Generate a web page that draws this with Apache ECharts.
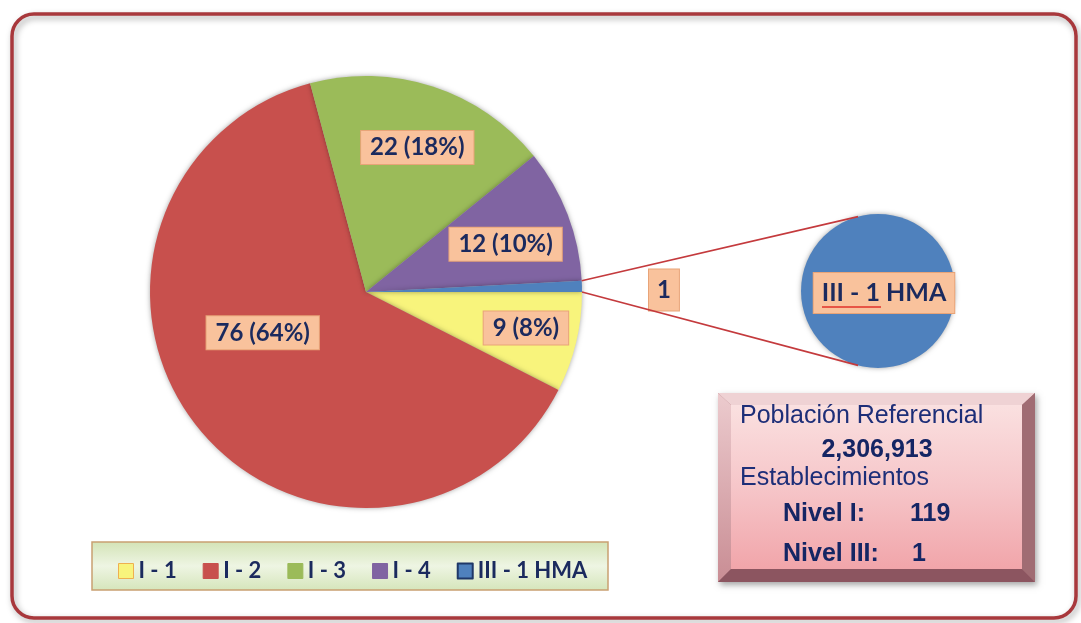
<!DOCTYPE html>
<html>
  <head>
  <meta charset="utf-8">
    <script type="text/javascript" src="https://cdn.jsdelivr.net/npm/echarts@6/dist/echarts.min.js"></script>
    <style>
      html, body { margin: 0; padding: 0; background: #fff; }
    </style>
  </head>
 <body>
     <div id="main" style="width:1081px;height:623px;"></div>
     <script type="text/javascript">
    // datos del grafico
    var categories = ['I - 1', 'I - 2', 'I - 3', 'I - 4', 'III - 1 HMA'];
    var counts = [9, 76, 22, 12, 1];
    var pctLabels = ['8%', '64%', '18%', '10%', ''];
    var colors = ['#f8f47c', '#c8504d', '#9bbb59', '#8064a2', '#4f81bd'];
    var legendBorders = ['#eeb050', '#c8504d', '#9bbb59', '#8064a2', '#1f3868'];
    var poblacion = '2,306,913';
    var nivelI = 119;
    var nivelIII = 1;

    // desplazamiento de cada etiqueta respecto de su posicion interna
    var labelShift = [[52, 10], [-17, -29], [17, -39], [36, -8], [187, 1]];

    var PIE_C = [366, 292], PIE_R = 216;
    var SUB_C = [878, 291], SUB_R = 77;
    var navy = '#1b2a5e';
    var textBlue = '#1d2e78';

    var myChart = echarts.init(document.getElementById('main'));

    var total = counts.reduce(function (a, b) { return a + b; }, 0);
    // angulos de la porcion III - 1 (ultima, termina en 0 grados)
    var blueAng = counts[4] / total * 2 * Math.PI;
    function onCircle(c, r, a) {
        return [c[0] + r * Math.cos(a), c[1] - r * Math.sin(a)];
    }
    var p1 = onCircle(PIE_C, PIE_R, blueAng), p2 = onCircle(PIE_C, PIE_R, 0);
    var q1 = onCircle(SUB_C, SUB_R, 105 * Math.PI / 180), q2 = onCircle(SUB_C, SUB_R, -105 * Math.PI / 180);

    var pieData = categories.map(function (name, i) {
        var d = { name: name, value: counts[i], itemStyle: { color: colors[i] } };
        if (!pctLabels[i]) d.label = { padding: [9, 8, 8, 8] };
        return d;
    });

    var labelBox = {
        color: navy,
        fontFamily: 'Lato',
        fontWeight: 'bold',
        fontSize: 24,
        backgroundColor: '#f9c29c',
        borderColor: '#e8a478',
        borderWidth: 1,
        padding: [5, 9, 4, 9]
    };

    var infoText = function (x, y, text, bold, align) {
        return {
            type: 'text', x: x, y: y, z: 20,
            style: {
                text: text, fill: bold ? '#142564' : textBlue,
                font: (bold ? 'bold ' : '') + '25px "Liberation Sans", Arial, sans-serif',
                align: align || 'left', verticalAlign: 'middle'
            }
        };
    };

    var option = {
        animation: false,
        legend: {
            data: categories.map(function (n, i) {
                return { name: n, itemStyle: { borderColor: legendBorders[i], borderWidth: i == 4 ? 2 : 1 } };
            }),
            left: 113,
            top: 555,
            itemWidth: 15,
            itemHeight: 15,
            itemGap: 26,
            icon: 'rect',
            selectedMode: false,
            textStyle: { color: navy, fontFamily: 'Lato', fontWeight: 'bold', fontSize: 22 }
        },
        graphic: [
            {
                type: 'rect', z: -10,
                shape: { x: 12, y: 14, width: 1064, height: 604, r: 22 },
                style: { fill: 'none', stroke: '#a8383c', lineWidth: 3.5,
                    shadowBlur: 6, shadowColor: 'rgba(0,0,0,0.35)', shadowOffsetX: 2, shadowOffsetY: 3 }
            },
            {
                type: 'rect', z: -5,
                shape: { x: 92, y: 542, width: 516, height: 48 },
                style: {
                    stroke: '#c9a072', lineWidth: 1.5,
                    fill: new echarts.graphic.LinearGradient(0, 0, 0, 1, [
                        { offset: 0, color: '#d3e3b6' },
                        { offset: 0.5, color: '#eef5e3' },
                        { offset: 1, color: '#d5e5ba' }
                    ])
                }
            },
            // conectores hacia el circulo secundario
            { type: 'line', z: 5, shape: { x1: p1[0], y1: p1[1], x2: q1[0], y2: q1[1] }, style: { stroke: '#c43a3d', lineWidth: 1.6 } },
            { type: 'line', z: 5, shape: { x1: p2[0], y1: p2[1], x2: q2[0], y2: q2[1] }, style: { stroke: '#c43a3d', lineWidth: 1.6 } },
            // caja de informacion
            {
                type: 'rect', z: 10,
                shape: { x: 718, y: 393, width: 317, height: 189 },
                style: { fill: '#b07a80', shadowBlur: 6, shadowColor: 'rgba(0,0,0,0.35)', shadowOffsetX: 2, shadowOffsetY: 3 }
            },
            { type: 'polygon', z: 11, shape: { points: [[718, 393], [1035, 393], [1022, 405], [731, 405]] }, style: { fill: '#efd2d4' } },
            { type: 'polygon', z: 11, shape: { points: [[718, 393], [731, 405], [731, 569], [718, 582]] },
                style: { fill: new echarts.graphic.LinearGradient(0, 0, 0, 1, [{ offset: 0, color: '#eccbce' }, { offset: 1, color: '#c98d94' }]) } },
            { type: 'polygon', z: 11, shape: { points: [[1035, 393], [1035, 582], [1022, 569], [1022, 405]] }, style: { fill: '#a06c73' } },
            { type: 'polygon', z: 11, shape: { points: [[718, 582], [731, 569], [1022, 569], [1035, 582]] }, style: { fill: '#8c5560' } },
            {
                type: 'rect', z: 12,
                shape: { x: 731, y: 405, width: 291, height: 164 },
                style: { fill: new echarts.graphic.LinearGradient(0, 0, 0, 1, [
                    { offset: 0, color: '#fae0e0' },
                    { offset: 0.5, color: '#f6c6c9' },
                    { offset: 1, color: '#f1a5aa' }
                ]) }
            },
            infoText(740, 416, 'Población Referencial', false),
            infoText(877, 450, poblacion, true, 'center'),
            infoText(740, 478, 'Establecimientos', false),
            infoText(783, 514, 'Nivel I:', true),
            infoText(910, 514, String(nivelI), true),
            infoText(783, 554, 'Nivel III:', true),
            infoText(912, 554, String(nivelIII), true),
            // subrayado del corrector
            { type: 'line', z: 30, shape: { x1: 822, y1: 307, x2: 881, y2: 307 }, style: { stroke: '#e0302a', lineWidth: 1.5 } }
        ],
        series: [
            {
                type: 'pie',
                center: PIE_C,
                radius: PIE_R,
                startAngle: 0,
                clockwise: true,
                avoidLabelOverlap: false,
                silent: true,
                itemStyle: { shadowBlur: 5, shadowColor: 'rgba(0,0,0,0.35)' },
                label: Object.assign({
                    position: 'inside',
                    formatter: function (p) {
                        return pctLabels[p.dataIndex] ? p.value + ' (' + pctLabels[p.dataIndex] + ')' : String(p.value);
                    }
                }, labelBox),
                labelLine: { show: false },
                labelLayout: function (p) {
                    var s = labelShift[p.dataIndex];
                    return { dx: s[0], dy: s[1] };
                },
                data: pieData
            },
            {
                type: 'pie',
                center: SUB_C,
                radius: SUB_R,
                silent: true,
                itemStyle: { shadowBlur: 5, shadowColor: 'rgba(0,0,0,0.35)' },
                label: Object.assign({}, labelBox, {
                    position: 'center',
                    fontSize: 25,
                    padding: [8, 8, 7, 8],
                    formatter: '{b}'
                }),
                labelLine: { show: false },
                labelLayout: function () { return { dx: 6, dy: 2 }; },
                data: [{ name: categories[4], value: counts[4], itemStyle: { color: colors[4] } }]
            }
        ]
    };
    myChart.setOption(option);
    </script>
  </body>
</html>
